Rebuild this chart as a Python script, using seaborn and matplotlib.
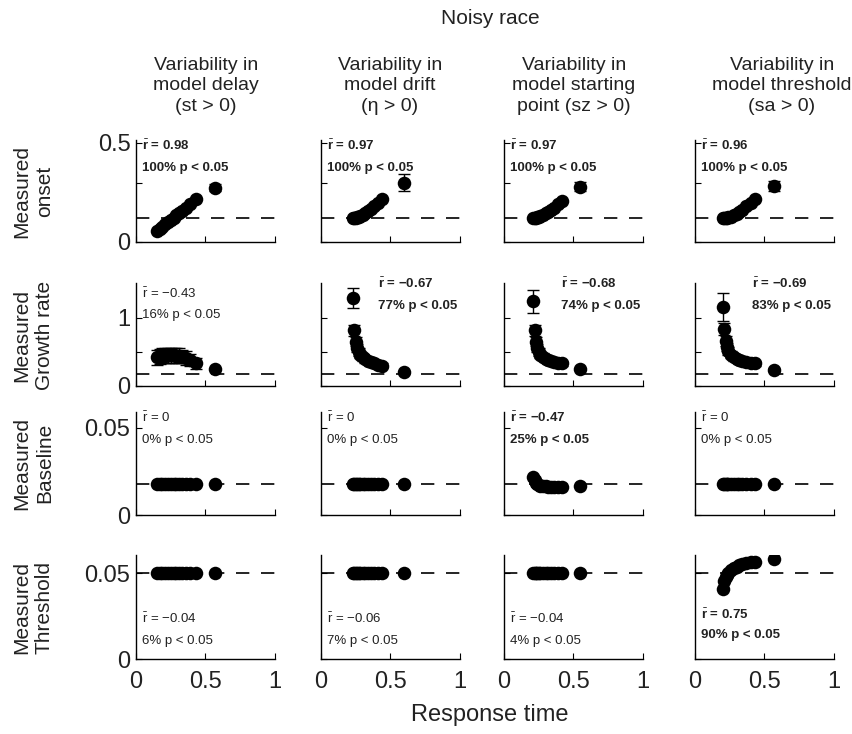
import matplotlib
matplotlib.use("Agg")
import matplotlib.pyplot as plt
import seaborn as sns
import pandas as pd
import numpy as np

sns.set_style("ticks")
plt.rcParams['font.family'] = ['Liberation Sans', 'DejaVu Sans']
plt.rcParams['mathtext.fontset'] = 'custom'
plt.rcParams['mathtext.rm'] = 'Liberation Sans'
plt.rcParams['mathtext.bf'] = 'Liberation Sans:bold'
plt.rcParams['mathtext.it'] = 'Liberation Sans:italic'

# ---------------- data ----------------
col_titles = ["Variability in\nmodel delay\n(st > 0)",
              "Variability in\nmodel drift\n(η > 0)",
              "Variability in\nmodel starting\npoint (sz > 0)",
              "Variability in\nmodel threshold\n(sa > 0)"]
row_labels = ["Measured\nonset", "Measured\nGrowth rate", "Measured\nBaseline", "Measured\nThreshold"]

# response times per column (last value = separate point)
rt_delay = [0.15, 0.17, 0.19, 0.21, 0.23, 0.25, 0.27, 0.29, 0.31, 0.33, 0.36, 0.39, 0.43, 0.565]
rt_drift = [0.23, 0.24, 0.25, 0.26, 0.27, 0.28, 0.30, 0.32, 0.34, 0.36, 0.38, 0.41, 0.44, 0.60]
rt_start = [0.21, 0.22, 0.23, 0.24, 0.25, 0.26, 0.28, 0.30, 0.32, 0.34, 0.36, 0.39, 0.42, 0.55]
rt_thresh = [0.20, 0.21, 0.22, 0.23, 0.24, 0.26, 0.28, 0.30, 0.32, 0.34, 0.37, 0.40, 0.43, 0.57]

# measured onset
onset_delay = [0.055, 0.066, 0.078, 0.089, 0.101, 0.112, 0.123, 0.135, 0.146, 0.157, 0.174, 0.191, 0.215, 0.275]
onset_drift = [0.120, 0.121, 0.122, 0.124, 0.127, 0.131, 0.138, 0.146, 0.156, 0.167, 0.180, 0.198, 0.217, 0.300]
onset_start = [0.120, 0.121, 0.122, 0.124, 0.126, 0.130, 0.136, 0.144, 0.153, 0.163, 0.174, 0.190, 0.205, 0.280]
onset_thresh = [0.120, 0.120, 0.121, 0.122, 0.124, 0.128, 0.134, 0.142, 0.152, 0.163, 0.180, 0.199, 0.217, 0.283]
onset_err_delay = [0.005] * 13 + [0.02]
onset_err_drift = [0.005] * 13 + [0.045]
onset_err_start = [0.005] * 13 + [0.025]
onset_err_thresh = [0.005] * 13 + [0.025]

# measured growth rate
growth_delay = [0.42, 0.43, 0.44, 0.44, 0.45, 0.45, 0.45, 0.44, 0.44, 0.43, 0.41, 0.38, 0.33, 0.25]
growth_drift = [1.29, 0.82, 0.65, 0.56, 0.50, 0.46, 0.42, 0.39, 0.37, 0.35, 0.33, 0.31, 0.30, 0.20]
growth_start = [1.24, 0.82, 0.65, 0.56, 0.50, 0.46, 0.43, 0.40, 0.38, 0.36, 0.35, 0.34, 0.33, 0.25]
growth_thresh = [1.16, 0.84, 0.66, 0.57, 0.51, 0.46, 0.42, 0.40, 0.38, 0.36, 0.35, 0.34, 0.33, 0.24]
growth_err_delay = [0.11, 0.11, 0.11, 0.11, 0.11, 0.11, 0.11, 0.11, 0.11, 0.10, 0.10, 0.09, 0.08, 0.02]
growth_err_drift = [0.15, 0.08, 0.07, 0.06, 0.06, 0.05, 0.05, 0.05, 0.05, 0.05, 0.04, 0.04, 0.04, 0.02]
growth_err_start = [0.17, 0.08, 0.07, 0.06, 0.06, 0.05, 0.05, 0.05, 0.05, 0.05, 0.04, 0.04, 0.04, 0.02]
growth_err_thresh = [0.20, 0.09, 0.07, 0.06, 0.06, 0.05, 0.05, 0.05, 0.05, 0.05, 0.04, 0.04, 0.04, 0.02]

# measured baseline
base_delay = [0.0178] * 14
base_drift = [0.0178] * 14
base_start = [0.0218, 0.0200, 0.0185, 0.0176, 0.0170, 0.0167, 0.0165, 0.0164, 0.0163, 0.0162, 0.0161, 0.0160, 0.0160, 0.0167]
base_thresh = [0.0178] * 14

# measured threshold
thr_delay = [0.05] * 14
thr_drift = [0.05] * 14
thr_start = [0.05] * 14
thr_thresh = [0.041, 0.0455, 0.0476, 0.049, 0.050, 0.0515, 0.0527, 0.0537, 0.0545, 0.0552, 0.0558, 0.0562, 0.0566, 0.058]

true_values = [0.12, 0.176, 0.0178, 0.05]
ylims = [0.515, 1.51, 0.059, 0.0605]
yticks = [[0, 0.3, 0.5], [0, 0.5, 1], [0, 0.05], [0, 0.05]]
yticklabels = [["0", "", "0.5"], ["0", "", "1"], ["0", "0.05"], ["0", "0.05"]]

r_values = [["0.98", "0.97", "0.97", "0.96"],
            ["−0.43", "−0.67", "−0.68", "−0.69"],
            ["0", "0", "−0.47", "0"],
            ["−0.04", "−0.06", "−0.04", "0.75"]]
p_values = [["100%", "100%", "100%", "100%"],
            ["16%", "77%", "74%", "83%"],
            ["0%", "0%", "25%", "0%"],
            ["6%", "7%", "4%", "90%"]]
bold = [[True, True, True, True],
        [False, True, True, True],
        [False, False, True, False],
        [False, False, False, True]]

rts = [rt_delay, rt_drift, rt_start, rt_thresh]
values = [[onset_delay, onset_drift, onset_start, onset_thresh],
          [growth_delay, growth_drift, growth_start, growth_thresh],
          [base_delay, base_drift, base_start, base_thresh],
          [thr_delay, thr_drift, thr_start, thr_thresh]]
errors = [[onset_err_delay, onset_err_drift, onset_err_start, onset_err_thresh],
          [growth_err_delay, growth_err_drift, growth_err_start, growth_err_thresh],
          [None] * 4, [None] * 4]

# ---------------- layout ----------------
W, H = 853, 734
fig = plt.figure(figsize=(W / 100, H / 100), dpi=100)
col_left = [136, 321, 504, 695]
col_w = 139
row_span = [(140, 242), (283, 386), (412, 515), (555, 659)]

# text positions (axes fraction)
txt_pos = [[(0.04, 0.94, 0.73)] * 4,
           [(0.04, 0.90, 0.69), (0.41, 0.99, 0.78), (0.41, 0.99, 0.78), (0.41, 0.99, 0.78)],
           [(0.04, 0.94, 0.73)] * 4,
           [(0.04, 0.39, 0.17), (0.04, 0.39, 0.17), (0.04, 0.39, 0.17), (0.04, 0.43, 0.23)]]

for i in range(4):
    top, bot = row_span[i]
    for j in range(4):
        ax = fig.add_axes([col_left[j] / W, 1 - bot / H, col_w / W, (bot - top) / H])
        df = pd.DataFrame({"rt": rts[j], "val": values[i][j]})
        ax.axhline(true_values[i], color="black", lw=1.2, ls=(0, (8, 7)), zorder=1)
        if errors[i][j] is not None:
            ax.errorbar(df["rt"], df["val"], yerr=errors[i][j], fmt="none",
                        ecolor="black", elinewidth=1.0, capsize=4, capthick=1.0, zorder=2)
        sns.scatterplot(data=df, x="rt", y="val", ax=ax, color="black", s=95,
                        edgecolor="black", linewidth=0, zorder=3, legend=False)
        ax.set_xlim(0, 1)
        ax.set_ylim(0, ylims[i])
        ax.set_xticks([0, 0.5, 1])
        ax.set_yticks(yticks[i])
        ax.set_xlabel("")
        ax.set_ylabel("")
        if i == 3:
            ax.set_xticklabels(["0", "0.5", "1"])
        else:
            ax.set_xticklabels([])
        if j == 0:
            ax.set_yticklabels(yticklabels[i])
        else:
            ax.set_yticklabels([])
        ax.tick_params(direction="in", length=4, width=0.8, labelsize=17, colors="black",
                       labelcolor="#222222")
        ax.tick_params(axis="x", pad=9)
        ax.tick_params(axis="y", pad=4)
        for side in ["top", "right"]:
            ax.spines[side].set_visible(False)
        for side in ["left", "bottom"]:
            ax.spines[side].set_linewidth(1.0)
            ax.spines[side].set_color("black")
        b = bold[i][j]
        rsym = r"$\bar{\mathbf{r}}$" if b else r"$\bar{\mathrm{r}}$"
        fw = "bold" if b else "normal"
        tx, ty1, ty2 = txt_pos[i][j]
        ax.text(tx, ty1, f"{rsym} = {r_values[i][j]}", transform=ax.transAxes,
                fontsize=9.5, fontweight=fw, va="center", ha="left", color="#222222")
        ax.text(tx, ty2, f"{p_values[i][j]} p < 0.05", transform=ax.transAxes,
                fontsize=9.5, fontweight=fw, va="center", ha="left", color="#222222")

# titles
fig.text(490 / W, 1 - 18 / H, "Noisy race", ha="center", va="center", fontsize=15, color="#222222")
title_x = [206, 390, 574, 782]
for j in range(4):
    fig.text(title_x[j] / W, 1 - 86 / H, col_titles[j], ha="center", va="center",
             fontsize=14, linespacing=1.25, color="#222222")
row_centers = [191, 335, 463, 607]
for i in range(4):
    fig.text(33 / W, 1 - row_centers[i] / H, row_labels[i], ha="center", va="center",
             rotation=90, fontsize=15, linespacing=1.25, color="#222222")
fig.text(490 / W, 1 - 715 / H, "Response time", ha="center", va="center", fontsize=17,
         color="#222222")

fig.savefig("out.png", dpi=100, facecolor="white")
